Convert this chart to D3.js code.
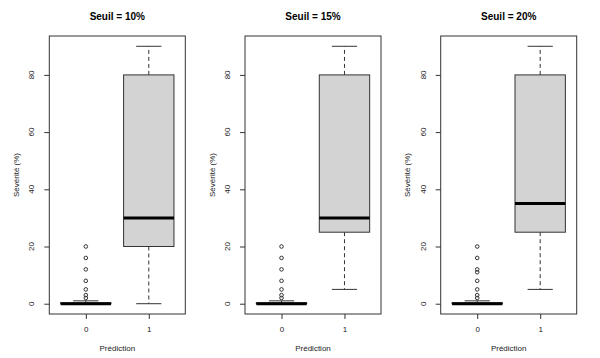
<!DOCTYPE html>
<html>
<head>
<meta charset="utf-8">
<script src="https://cdn.jsdelivr.net/npm/d3@7/dist/d3.min.js"></script>
<style>
  html, body { margin: 0; padding: 0; background: #fff; }
  svg { display: block; font-family: "Liberation Sans", Arial, Helvetica, sans-serif; }
</style>
</head>
<body>
<svg id="chart" width="600" height="358"></svg>
<script>
// ---- data ----
const panelTitles = ["Seuil = 10%", "Seuil = 15%", "Seuil = 20%"];
const categories = ["0", "1"];
const yTicks = [0, 20, 40, 60, 80];
// [lower whisker, Q1, median, Q3, upper whisker]
const class0Stats = [[0, 0, 0, 0.3, 1], [0, 0, 0, 0.3, 1], [0, 0, 0, 0.3, 1]];
const class1Stats = [[0, 20, 30, 80, 90], [5, 25, 30, 80, 90], [5, 25, 35, 80, 90]];
const class0Outliers = [[2, 3, 5, 8, 12, 16, 20], [2, 3, 5, 8, 12, 16, 20], [2, 3, 5, 8, 11, 12, 16, 20]];
const class1Outliers = [[], [], []];
const xLabel = "Prédiction";
const yLabel = "Sévérité (%)";

// ---- layout ----
const svg = d3.select("#chart");
const plotLefts = [49.3, 245, 440.7];
const plotW = 136, plotTop = 36, plotBottom = 314;
const ink = "#333";

const y = d3.scaleLinear().domain([-3.6, 93.6]).range([plotBottom, plotTop]);

panelTitles.forEach((title, p) => {
  const left = plotLefts[p];
  const x = d3.scaleLinear().domain([0.42, 2.58]).range([left, left + plotW]);
  const g = svg.append("g");

  // y axis
  const yAxis = d3.axisLeft(y).tickValues(yTicks).tickSize(5).tickFormat(d3.format("d"));
  const ya = g.append("g").attr("transform", `translate(${left},0)`).call(yAxis);
  ya.select(".domain").remove();
  ya.selectAll(".tick line").attr("stroke", ink);
  ya.selectAll(".tick text").remove();
  yTicks.forEach(t => {
    g.append("text")
      .attr("transform", `translate(${left - 15},${y(t)}) rotate(-90)`)
      .attr("text-anchor", "middle")
      .attr("font-size", 8).attr("fill", "#222").text(t);
  });

  // x axis
  const xAxis = d3.axisBottom(x).tickValues([1, 2]).tickSize(5).tickFormat((d, i) => categories[i]);
  const xa = g.append("g").attr("transform", `translate(0,${plotBottom})`).call(xAxis);
  xa.attr("font-family", null);
  xa.select(".domain").remove();
  xa.selectAll(".tick line").attr("stroke", ink);
  xa.selectAll(".tick text").attr("font-size", 8).attr("fill", "#222").attr("dy", null).attr("y", 18);

  // frame
  g.append("rect")
    .attr("x", left).attr("y", plotTop)
    .attr("width", plotW).attr("height", plotBottom - plotTop)
    .attr("fill", "none").attr("stroke", ink).attr("stroke-width", 1);

  // boxes
  const stats = [class0Stats[p], class1Stats[p]];
  const outs = [class0Outliers[p], class1Outliers[p]];
  stats.forEach((s, i) => {
    const cx = x(i + 1);
    const bw = x(1.4) - x(1);
    const cw = bw / 2;
    const [lo, q1, med, q3, hi] = s;
    g.append("line").attr("x1", cx).attr("x2", cx).attr("y1", y(q3)).attr("y2", y(hi))
      .attr("stroke", ink).attr("stroke-dasharray", "4,3");
    g.append("line").attr("x1", cx).attr("x2", cx).attr("y1", y(q1)).attr("y2", y(lo))
      .attr("stroke", ink).attr("stroke-dasharray", "4,3");
    [lo, hi].forEach(v => {
      g.append("line").attr("x1", cx - cw).attr("x2", cx + cw).attr("y1", y(v)).attr("y2", y(v))
        .attr("stroke", ink);
    });
    g.append("rect")
      .attr("x", cx - bw).attr("y", y(q3))
      .attr("width", 2 * bw).attr("height", Math.max(0, y(q1) - y(q3)))
      .attr("fill", "#d3d3d3").attr("stroke", ink);
    g.append("line").attr("x1", cx - bw).attr("x2", cx + bw).attr("y1", y(med)).attr("y2", y(med))
      .attr("stroke", "#000").attr("stroke-width", 3);
    outs[i].forEach(v => {
      g.append("circle").attr("cx", cx).attr("cy", y(v)).attr("r", 1.8)
        .attr("fill", "none").attr("stroke", ink).attr("stroke-width", 1);
    });
  });

  // titles and labels
  g.append("text").attr("x", left + plotW / 2).attr("y", 20)
    .attr("text-anchor", "middle").attr("font-size", 10).attr("font-weight", "bold")
    .attr("fill", "#000").text(title);
  g.append("text").attr("x", left + plotW / 2).attr("y", 351)
    .attr("text-anchor", "middle").attr("font-size", 8).attr("fill", "#222").text(xLabel);
  g.append("text")
    .attr("transform", `translate(${left - 30.5},${(plotTop + plotBottom) / 2}) rotate(-90)`)
    .attr("text-anchor", "middle").attr("font-size", 8).attr("fill", "#222").text(yLabel);
});
</script>
</body>
</html>
